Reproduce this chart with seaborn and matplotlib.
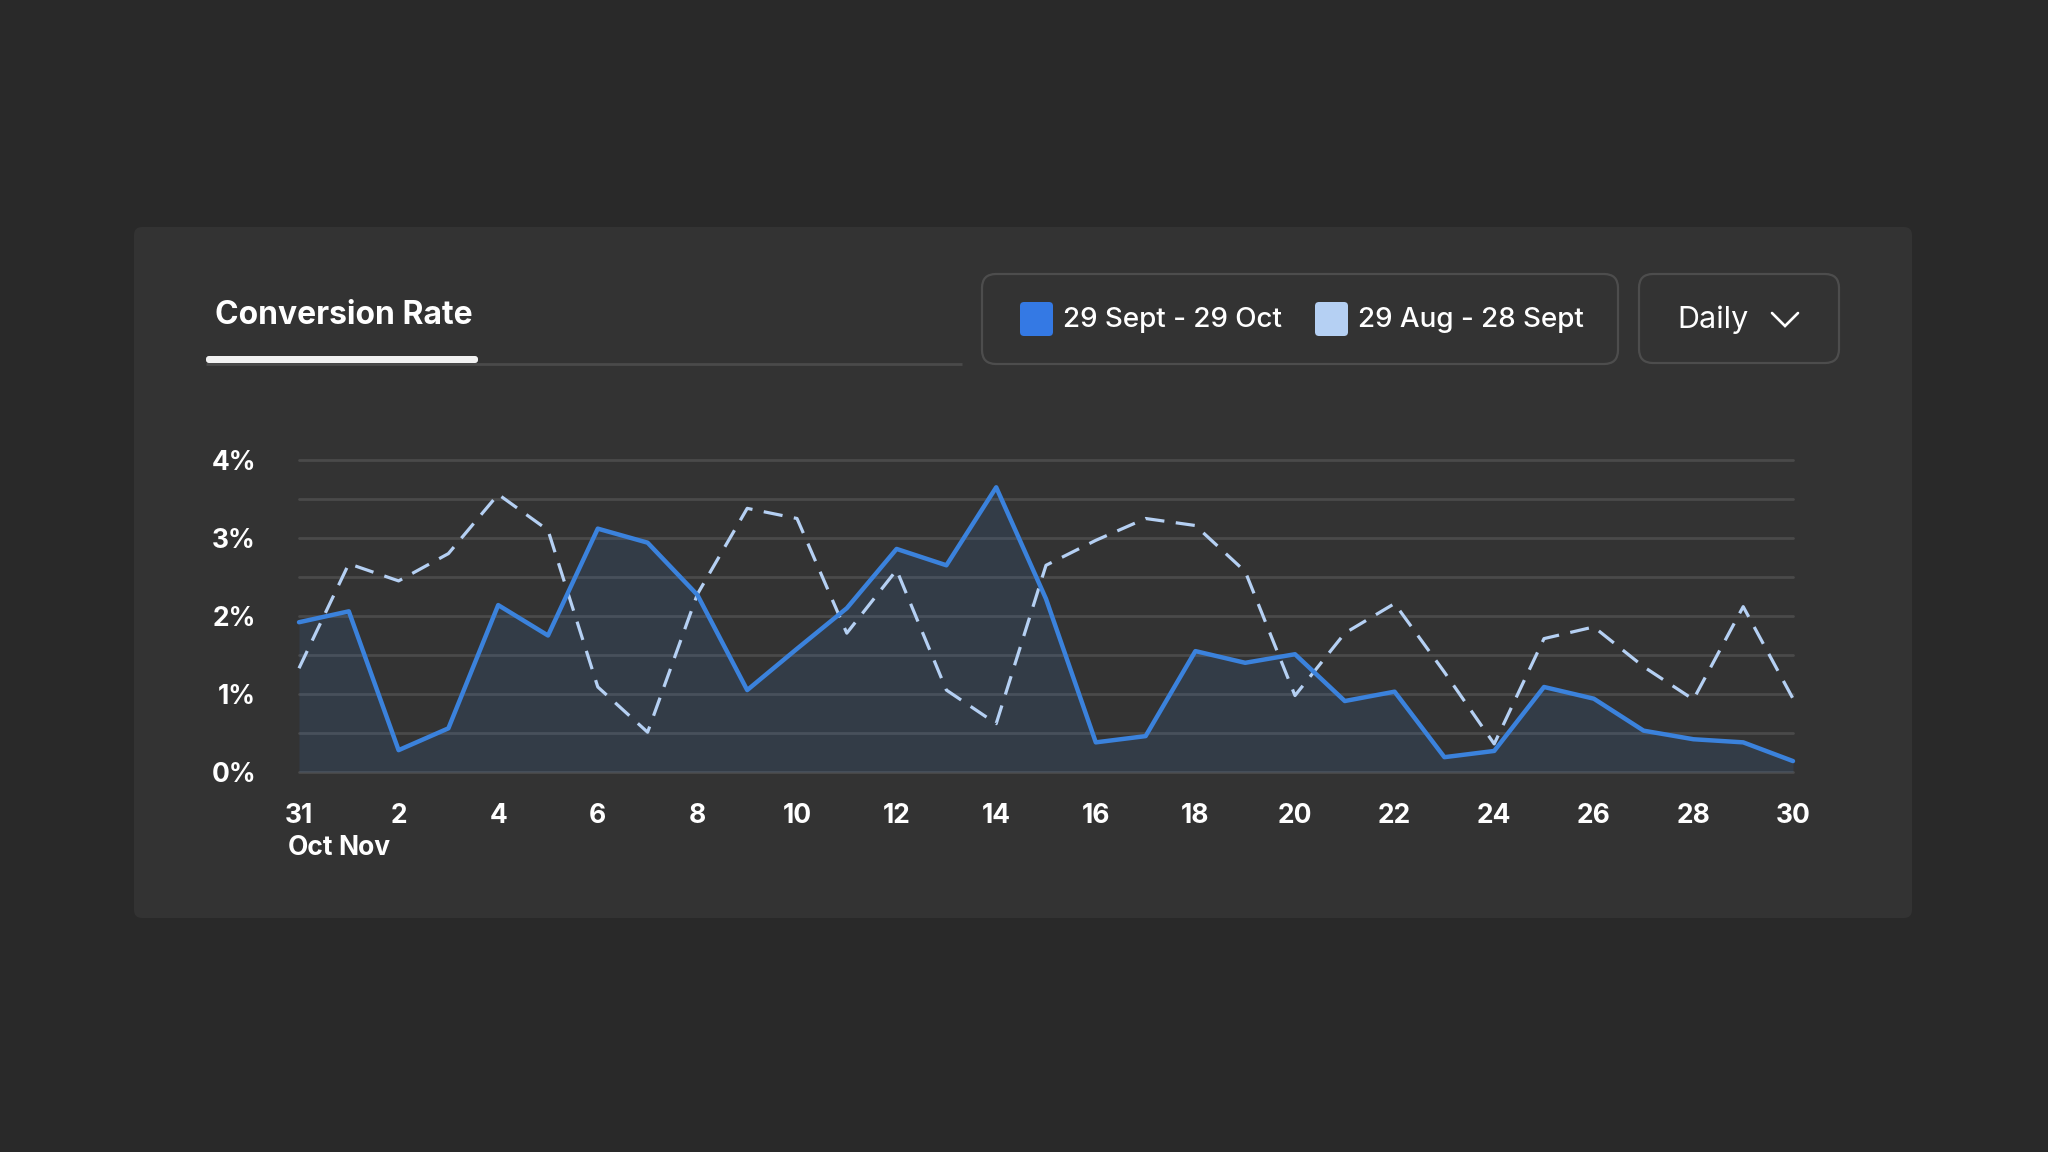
import numpy as np
import pandas as pd
import matplotlib
matplotlib.use('Agg')
import matplotlib.pyplot as plt
from matplotlib.patches import FancyBboxPatch
import seaborn as sns

# ----- data (conversion rate, %) -----
day_labels = ['31', '1', '2', '3', '4', '5', '6', '7', '8', '9', '10', '11', '12', '13', '14', '15',
              '16', '17', '18', '19', '20', '21', '22', '23', '24', '25', '26', '27', '28', '29', '30']
current_period = [1.92, 2.06, 0.28, 0.56, 2.14, 1.75, 3.12, 2.94, 2.27, 1.05,
                  1.58, 2.10, 2.86, 2.65, 3.65, 2.22, 0.38, 0.46, 1.55, 1.40,
                  1.51, 0.91, 1.03, 0.19, 0.27, 1.09, 0.94, 0.53, 0.42, 0.38, 0.14]
previous_period = [1.33, 2.67, 2.45, 2.80, 3.56, 3.10, 1.09, 0.51, 2.28, 3.38,
                   3.25, 1.78, 2.59, 1.05, 0.62, 2.65, 2.97, 3.25, 3.16, 2.57,
                   0.98, 1.78, 2.16, 1.28, 0.36, 1.71, 1.86, 1.35, 0.93, 2.12, 0.94]
series_names = ['29 Sept - 29 Oct', '29 Aug - 28 Sept']
y_ticks = [0, 1, 2, 3, 4]

W, H = 2048, 1152
OUTER = '#292929'
CARD = '#333333'
BLUE = '#3b82dc'
LIGHT = '#b5d0f3'
GRID = '#4a4a4a'

sns.set_theme(style='dark')
plt.rcParams['font.family'] = ['Inter', 'DejaVu Sans']

df = pd.DataFrame({
    'day': np.arange(len(day_labels)),
    'current': current_period,
    'previous': previous_period,
})

fig = plt.figure(figsize=(W / 100, H / 100), dpi=100, facecolor=OUTER)

# background layer in pixel coordinates
bg = fig.add_axes([0, 0, 1, 1], zorder=0)
bg.set_xlim(0, W)
bg.set_ylim(H, 0)
bg.axis('off')


def rbox(x0, y0, x1, y1, r, **kw):
    p = FancyBboxPatch((x0, y0), x1 - x0, y1 - y0,
                       boxstyle=f'round,pad=0,rounding_size={r}', **kw)
    bg.add_patch(p)


rbox(134, 227, 1912, 918, 8, facecolor=CARD, edgecolor='none')

# tab header
bg.text(215, 316, 'Conversion Rate', color='white', fontsize=23, fontweight='bold',
        va='center', ha='left')
bg.plot([206, 962], [364, 364], color='#4a4a4a', lw=2, solid_capstyle='butt')
rbox(206, 356, 478, 363, 3, facecolor='#f2f2f2', edgecolor='none')

# legend box
rbox(982, 274, 1618, 364, 14, facecolor='none', edgecolor='#4d4d4d', lw=1.6)
rbox(1020, 302, 1053, 336, 4, facecolor='#3479e4', edgecolor='none')
rbox(1315, 302, 1348, 336, 4, facecolor=LIGHT, edgecolor='none')
bg.text(1063, 320, series_names[0], color='white', fontsize=20, fontweight='medium',
        va='center', ha='left')
bg.text(1358, 320, series_names[1], color='white', fontsize=20, fontweight='medium',
        va='center', ha='left')

# "Daily" dropdown
rbox(1639, 274, 1839, 363, 14, facecolor='none', edgecolor='#4d4d4d', lw=1.6)
bg.text(1677, 320, 'Daily', color='white', fontsize=22, va='center', ha='left')
bg.plot([1772, 1785, 1798], [313, 326, 313], color='white', lw=1.9,
        solid_capstyle='round', solid_joinstyle='miter')

# month labels under the first ticks
bg.text(288, 848, 'Oct', color='white', fontsize=19, fontweight='bold', va='center', ha='left')
bg.text(338, 848, 'Nov', color='white', fontsize=19, fontweight='bold', va='center', ha='left')

# ----- chart -----
ax = fig.add_axes([299 / W, (H - 772) / H, (1793 - 299) / W, (772 - 460) / H], zorder=1)
ax.set_facecolor(CARD)
for y in np.arange(0, 4.01, 0.5):
    ax.axhline(y, color=GRID, lw=2, zorder=0)

ax.fill_between(df['day'], 0, df['current'], color=BLUE, alpha=0.12, lw=0, zorder=1)
sns.lineplot(data=df, x='day', y='previous', ax=ax, color=LIGHT, lw=2.3,
             linestyle=(0, (6, 3.6)), zorder=2)
sns.lineplot(data=df, x='day', y='current', ax=ax, color=BLUE, lw=3.2, zorder=3)
for ln in ax.lines:
    ln.set_clip_on(False)

ax.set_xlim(0, len(day_labels) - 1)
ax.set_ylim(0, 4)
ax.set_xticks(df['day'][::2])
ax.set_xticklabels(day_labels[::2])
ax.set_yticks(y_ticks)
ax.set_yticklabels([f'{v}%' for v in y_ticks])
ax.set_xlabel('')
ax.set_ylabel('')
ax.grid(False)
for s in ax.spines.values():
    s.set_visible(False)
ax.tick_params(axis='x', length=0, pad=22, labelsize=19, labelcolor='white')
ax.tick_params(axis='y', length=0, pad=31, labelsize=19, labelcolor='white')
for lab in ax.get_xticklabels() + ax.get_yticklabels():
    lab.set_fontweight('bold')

fig.savefig('out.png', dpi=100, facecolor=OUTER)
